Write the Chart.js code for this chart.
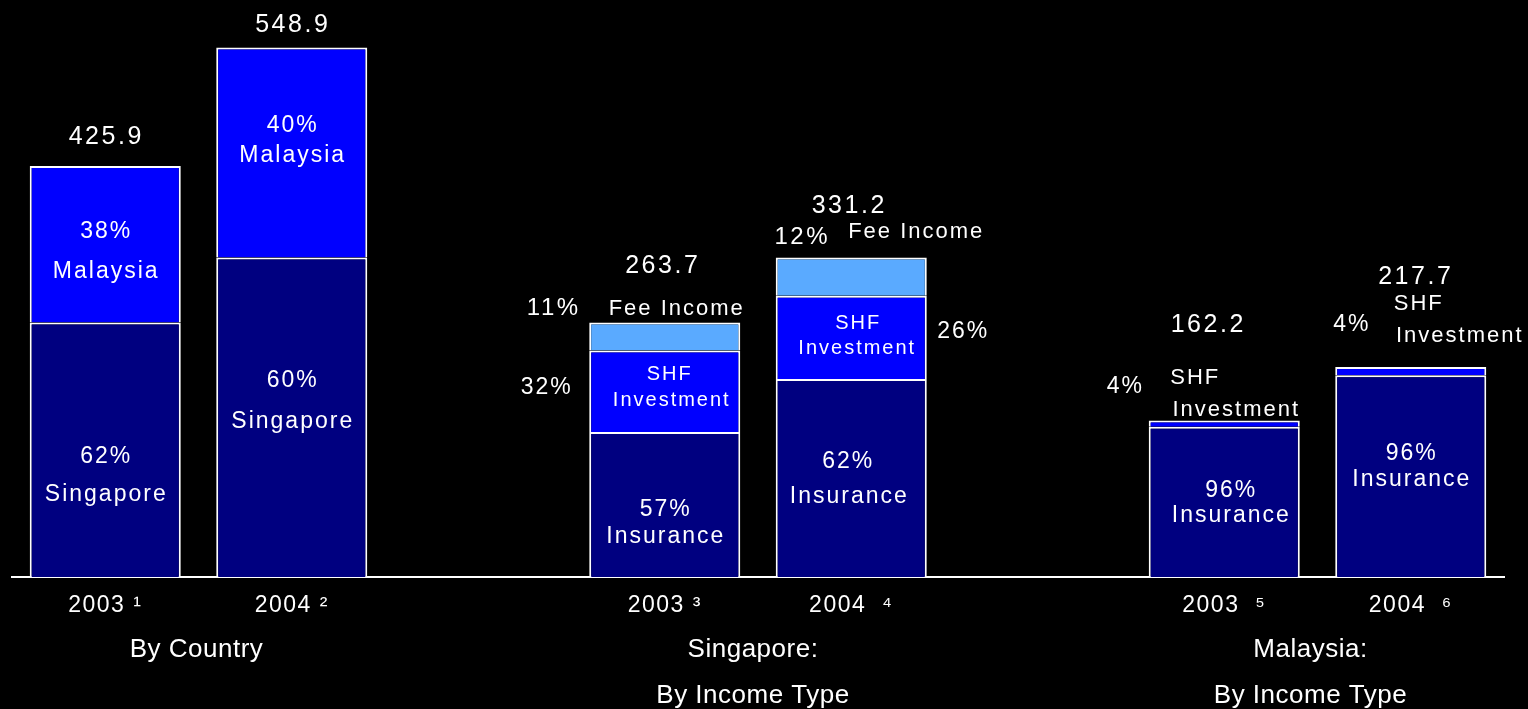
<!DOCTYPE html>
<html>
<head>
<meta charset="utf-8">
<script src="https://cdn.jsdelivr.net/npm/chart.js@4.4.1/dist/chart.umd.min.js"></script>
<style>
    html, body { margin: 0; padding: 0; background: #000; }
    #wrap { width: 1528px; height: 709px; }
</style>
</head>
<body>
<div id="wrap"><canvas id="myChart"></canvas></div>
<script>
// empty slots ('') separate the three groups
const categories = ['2003 \u00b9', '2004 \u00b2', '', '2003 \u00b3', '2004  \u2074', '', '2003  \u2075', '2004  \u2076'];

// Singapore (by country) / Insurance (by income type)
const baseValues = [263.7, 331.2, null, 150.3, 205.3, null, 155.7, 209.0];
// Malaysia (by country) / SHF Investment (by income type)
const midValues = [162.2, 217.7, null, 84.4, 86.1, null, 6.5, 8.7];
// Fee Income
const feeValues = [null, null, null, 29.0, 39.8, null, null, null];

const totalLabels = ['425.9', '548.9', '', '263.7', '331.2', '', '162.2', '217.7'];

const groupNames = [['By Country'], ['Singapore:', 'By Income Type'], ['Malaysia:', 'By Income Type']];
const groupSlots = [[0, 1], [3, 4], [6, 7]];
const groupShift = [-2, -5, -7];

const FONT = '"Liberation Sans", Arial, sans-serif';

// bar index, text, dx from bar centre, dy from bar top, font size
const notes = [
    [0, totalLabels[0], 0, -32, 25],
    [0, '38%', 0, 63, 23], [0, 'Malaysia', 0, 103, 23],
    [0, '62%', 0, 288, 23], [0, 'Singapore', 0, 326, 23],

    [1, totalLabels[1], 0, -25, 25],
    [1, '40%', 0, 75, 23], [1, 'Malaysia', 0, 105, 23],
    [1, '60%', 0, 330, 23], [1, 'Singapore', 0, 371, 23],

    [3, totalLabels[3], -3, -59, 25],
    [3, '11%', -112, -17, 24], [3, 'Fee Income', 11, -17, 22],
    [3, '32%', -119, 62, 23],
    [3, 'SHF', 4, 49, 20], [3, 'Investment', 6, 75, 20],
    [3, '57%', 0, 184, 23], [3, 'Insurance', 0, 211, 23],

    [4, totalLabels[4], -3, -54, 25],
    [4, '12%', -50, -23, 24], [4, 'Fee Income', 64, -28, 22],
    [4, 'SHF', 6, 63, 20], [4, 'Investment', 5, 88, 20],
    [4, '26%', 111, 71, 23],
    [4, '62%', -4, 201, 23], [4, 'Insurance', -3, 236, 23],

    [6, totalLabels[6], -17, -98, 25],
    [6, '4%', -100, -37, 23],
    [6, 'SHF', -30, -46, 22], [6, 'Investment', 11, -14, 22],
    [6, '96%', 6, 67, 23], [6, 'Insurance', 6, 92, 23],

    [7, totalLabels[7], 4, -93, 25],
    [7, 'SHF', 7, -66, 22], [7, 'Investment', 48, -34, 22],
    [7, '4%', -60, -45, 23],
    [7, '96%', 0, 84, 23], [7, 'Insurance', 0, 110, 23]
];

const labelPlugin = {
    id: 'labels',
    beforeDraw(chart) {
        chart.ctx.letterSpacing = '1.5px';
    },
    afterDraw(chart) {
        const ctx = chart.ctx;
        const x = chart.scales.x;
        const y = chart.scales.y;
        ctx.save();
        ctx.fillStyle = '#fff';
        ctx.textAlign = 'center';
        ctx.textBaseline = 'middle';

        notes.forEach(([i, text, dx, dy, size]) => {
            const total = (baseValues[i] || 0) + (midValues[i] || 0) + (feeValues[i] || 0);
            const cx = x.getPixelForValue(i);
            const top = y.getPixelForValue(total);
            ctx.font = size + 'px ' + FONT;
            ctx.letterSpacing = (size >= 24 ? 2.5 : 2) + 'px';
            ctx.fillText(text, cx + dx + 1, top + dy + 3);
        });

        ctx.letterSpacing = '0.5px';
        ctx.font = '26px ' + FONT;
        groupNames.forEach((lines, g) => {
            const [a, b] = groupSlots[g];
            const cx = (x.getPixelForValue(a) + x.getPixelForValue(b)) / 2 + groupShift[g];
            lines.forEach((line, k) => {
                ctx.fillText(line, cx, x.top + 73 + k * 46);
            });
        });
        ctx.restore();
    }
};

const ctx = document.getElementById('myChart');

const myChart = new Chart(ctx, {
    type: 'bar',
    data: {
        labels: categories,
        datasets: [
            { label: 'Singapore / Insurance', data: baseValues, backgroundColor: '#000080' },
            { label: 'Malaysia / SHF Investment', data: midValues, backgroundColor: '#0000ff' },
            { label: 'Fee Income', data: feeValues, backgroundColor: '#5aaaff' }
        ]
    },
    options: {
        responsive: true,
        maintainAspectRatio: false,
        animation: false,
        layout: { padding: { left: 12, right: 24, top: 0, bottom: 0 } },
        datasets: {
            bar: {
                borderColor: '#ffffff',
                borderWidth: 2,
                borderSkipped: 'start',
                categoryPercentage: 1,
                barPercentage: 0.81
            }
        },
        plugins: {
            legend: { display: false },
            tooltip: { enabled: false }
        },
        scales: {
            x: {
                stacked: true,
                grid: { display: false, drawTicks: false },
                border: { display: true, color: '#ffffff', width: 2 },
                ticks: {
                    color: '#ffffff',
                    font: { size: 23, family: FONT },
                    padding: 15,
                    maxRotation: 0,
                    autoSkip: false
                },
                afterFit(scale) { scale.height = 132; }
            },
            y: {
                stacked: true,
                display: false,
                min: 0,
                max: 598
            }
        }
    },
    plugins: [labelPlugin]
});
</script>
</body>
</html>
